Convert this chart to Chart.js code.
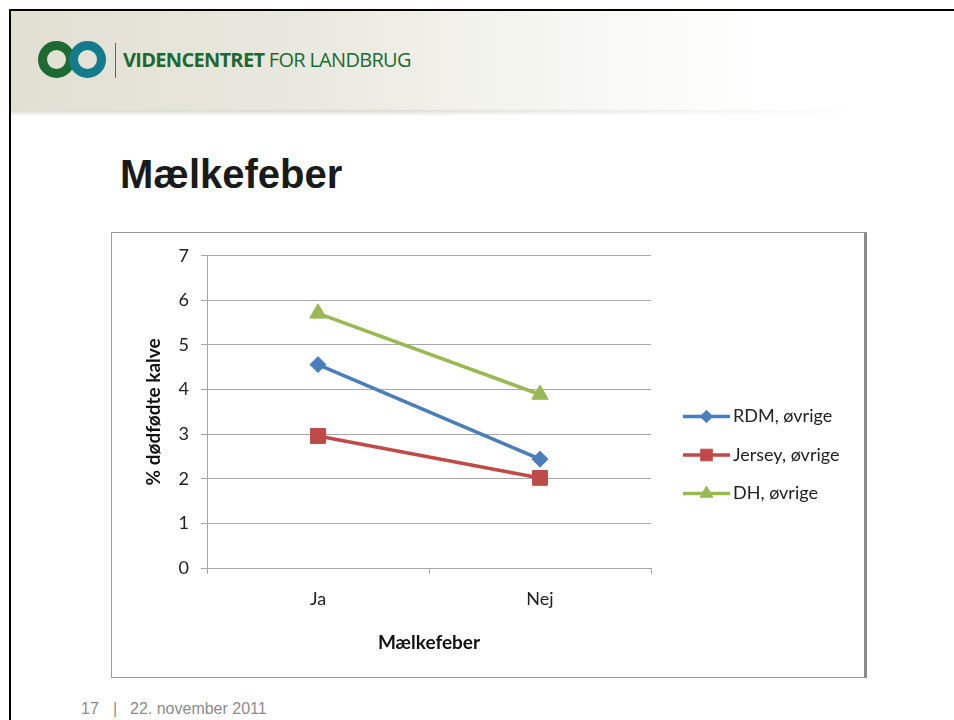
<!DOCTYPE html>
<html>
<head>
<meta charset="utf-8">
<script src="https://cdn.jsdelivr.net/npm/chart.js@4.4.0/dist/chart.umd.min.js"></script>
<style>
  html, body { margin: 0; padding: 0; background: #fff; }
  body { width: 954px; height: 720px; position: relative; overflow: hidden; font-family: "Liberation Sans", Arial, sans-serif; }
  #frameTop { position: absolute; left: 9px; top: 9px; width: 945px; height: 2px; background: #000; }
  #frameLeft { position: absolute; left: 9px; top: 9px; width: 2px; height: 711px; background: #000; }
  #header { position: absolute; left: 11px; top: 11px; width: 943px; height: 99px;
    background: linear-gradient(to right, #e2e0d3 0%, #e9e8de 30%, #f5f5f0 55%, #ffffff 80%); }
  #shadow { position: absolute; left: 11px; top: 110px; width: 943px; height: 6px;
    background: linear-gradient(to bottom, rgba(190,188,178,0.6), rgba(255,255,255,0));
    -webkit-mask-image: linear-gradient(to right, #000 0%, #000 40%, transparent 90%); }
  .ring { position: absolute; width: 19px; height: 19px; border-radius: 50%; border-style: solid; border-width: 9px; }
  #ring1 { left: 38px; top: 41px; border-color: #1d6a33; }
  #ring2 { left: 69px; top: 41px; border-color: #137b8a; }
  #sep { position: absolute; left: 115px; top: 43px; width: 1px; height: 35px; background: #3d7d4a; }
  #brand { position: absolute; left: 123px; top: 46px; font-family: "Open Sans", sans-serif; font-size: 20px; color: #1b6a30; letter-spacing: -0.7px; white-space: nowrap; }
  #brand b { font-weight: 700; }
  #title { position: absolute; left: 120px; top: 152px; font-family: "Liberation Sans", Arial, sans-serif; font-weight: bold; font-size: 40px; color: #1a1a1a; }
  #chartBox { position: absolute; left: 111px; top: 232px; width: 752px; height: 444px;
    border-left: 1px solid #9a9a9a; border-top: 1px solid #9a9a9a; border-bottom: 1px solid #9a9a9a; border-right: 3px solid #8a8a8a; background: #fff; }
  #chartBox canvas { display: block; }
  .foot { position: absolute; top: 700px; font-family: "Liberation Sans", Arial, sans-serif; font-size: 16px; color: #8c8c8c; white-space: nowrap; }
</style>
</head>
<body>
<div id="header"></div>
<div id="shadow"></div>
<div id="frameTop"></div>
<div id="frameLeft"></div>
<div class="ring" id="ring1"></div>
<div class="ring" id="ring2"></div>
<div id="sep"></div>
<div id="brand"><b>VIDENCENTRET</b> FOR LANDBRUG</div>
<div id="title">Mælkefeber</div>
<div id="chartBox"><canvas id="c" width="752" height="444"></canvas></div>
<div class="foot" style="left:81px">17</div>
<div class="foot" style="left:113px">|</div>
<div class="foot" style="left:130px">22. november 2011</div>
<script>
const categories = ["Ja", "Nej"];
const seriesNames = ["RDM, øvrige", "Jersey, øvrige", "DH, øvrige"];
const rdmValues = [4.56, 2.44];
const jerseyValues = [2.96, 2.02];
const dhValues = [5.71, 3.89];
const yTicks = [0, 1, 2, 3, 4, 5, 6, 7];

const FONT = "Lato, 'Open Sans', sans-serif";
const GRID = "#a8a8a8";

const lineLegend = {
  id: 'lineLegend',
  afterDraw(chart) {
    const ctx = chart.ctx;
    const ca = chart.chartArea;
    const ds = chart.data.datasets;
    const x0 = ca.right + 32;
    const lineLen = 47;
    const gap = 38.5;
    const cy = chart.height / 2;
    ctx.save();
    ds.forEach((d, i) => {
      const y = cy + (i - (ds.length - 1) / 2) * gap;
      ctx.strokeStyle = d.borderColor;
      ctx.lineWidth = d.borderWidth;
      ctx.beginPath();
      ctx.moveTo(x0, y);
      ctx.lineTo(x0 + lineLen, y);
      ctx.stroke();
      ctx.fillStyle = d.backgroundColor;
      ctx.lineWidth = 1;
      Chart.helpers.drawPoint(ctx, { pointStyle: d.pointStyle, radius: d.pointRadius * 0.78, borderWidth: 1, rotation: 0 }, x0 + lineLen / 2, y);
      ctx.fillStyle = '#222';
      ctx.font = "18px " + FONT;
      ctx.textBaseline = 'middle';
      ctx.textAlign = 'left';
      ctx.fillText(d.label, x0 + lineLen + 3, y);
    });
    ctx.restore();
  }
};

function mk(label, data, color, style, r) {
  return {
    label, data,
    borderColor: color, backgroundColor: color,
    borderWidth: 3.5,
    pointStyle: style, pointRadius: r, pointHoverRadius: r,
    pointBorderWidth: 1,
    tension: 0
  };
}

new Chart(document.getElementById('c'), {
  type: 'line',
  data: {
    labels: categories,
    datasets: [
      mk(seriesNames[0], rdmValues, '#4a7ebb', 'rectRot', 8),
      mk(seriesNames[1], jerseyValues, '#be4b48', 'rect', 10.5),
      mk(seriesNames[2], dhValues, '#98b954', 'triangle', 9.5)
    ]
  },
  options: {
    responsive: false,
    animation: false,
    events: [],
    layout: { padding: { left: 0, top: 22, right: 213, bottom: 0 } },
    plugins: { legend: { display: false }, tooltip: { enabled: false } },
    scales: {
      x: {
        type: 'category',
        offset: true,
        grid: { offset: true, drawOnChartArea: false, drawTicks: true, tickLength: 6, color: GRID },
        border: { color: GRID },
        ticks: { color: '#222', font: { family: FONT, size: 18 }, padding: 14 },
        title: { display: true, text: 'Mælkefeber', color: '#111', font: { family: FONT, size: 19, weight: 'bold' }, padding: { top: 0, bottom: 23 } },
        afterFit(s) { s.height = 109; }
      },
      y: {
        min: 0, max: 7,
        afterBuildTicks(s) { s.ticks = yTicks.map(v => ({ value: v })); },
        grid: { color: GRID, drawTicks: true, tickLength: 6 },
        border: { color: GRID },
        ticks: { color: '#222', font: { family: FONT, size: 18 }, padding: 12 },
        title: { display: true, text: '% dødfødte kalve', color: '#111', font: { family: FONT, size: 19, weight: 'bold' }, padding: { top: 30, bottom: 0 } },
        afterFit(s) { s.width = 95; }
      }
    }
  },
  plugins: [lineLegend]
});
</script>
</body>
</html>
